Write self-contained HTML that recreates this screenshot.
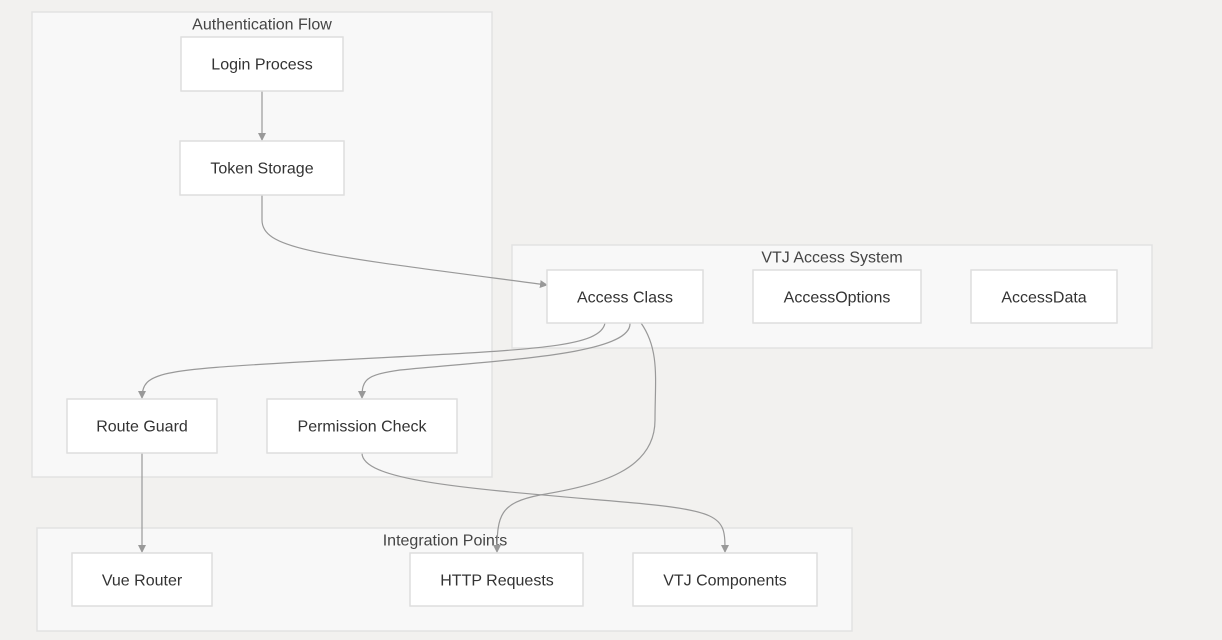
<!DOCTYPE html>
<html><head><meta charset="utf-8"><style>
html,body{margin:0;padding:0;background:#f2f1ef;}
svg{display:block;font-family:"Liberation Sans",sans-serif;}
.c{fill:#f8f8f8;stroke:#e2e2e2;stroke-width:1.5}
.n{fill:#fff;stroke:#dedede;stroke-width:1.5}
.t{font-size:16px;fill:#333;text-anchor:middle;dominant-baseline:central}
.ct{font-size:16px;fill:#444;text-anchor:middle;dominant-baseline:central}
.e{fill:none;stroke:#999;stroke-width:1.2}
</style></head><body>
<svg width="1222" height="640" viewBox="0 0 1222 640">
<defs><marker id="a" markerWidth="8" markerHeight="8" refX="7" refY="4" orient="auto" markerUnits="userSpaceOnUse"><path d="M0,0L8,4L0,8z" fill="#999"/></marker></defs>
<rect class="c" x="32" y="12" width="460" height="465"/>
<text class="ct" x="262" y="25">Authentication Flow</text>
<rect class="c" x="512" y="245" width="640" height="103"/>
<text class="ct" x="832" y="258">VTJ Access System</text>
<rect class="c" x="37" y="528" width="815" height="103"/>
<text class="ct" x="445" y="541">Integration Points</text>

<path class="e" marker-end="url(#a)" d="M262,91 V140"/>
<path class="e" marker-end="url(#a)" d="M262,195 V220 C262,250 320,255 547,285"/>
<path class="e" marker-end="url(#a)" d="M605,323 C600,350 520,350 300,362 C160,370 142,372 142,398"/>
<path class="e" marker-end="url(#a)" d="M630,323 C632,355 500,360 400,370 C365,375 362,380 362,398"/>
<path class="e" marker-end="url(#a)" d="M641,323 C660,350 655,380 655,420 C655,470 600,485 540,495 C500,503 497,515 497,552"/>
<path class="e" marker-end="url(#a)" d="M362,453 C362,480 460,488 600,500 C725,510 725,515 725,552"/>
<path class="e" marker-end="url(#a)" d="M142,453 V552"/>

<rect class="n" x="181" y="37" width="162" height="54"/><text class="t" x="262" y="65">Login Process</text>
<rect class="n" x="180" y="141" width="164" height="54"/><text class="t" x="262" y="169">Token Storage</text>
<rect class="n" x="547" y="270" width="156" height="53"/><text class="t" x="625" y="298">Access Class</text>
<rect class="n" x="753" y="270" width="168" height="53"/><text class="t" x="837" y="298">AccessOptions</text>
<rect class="n" x="971" y="270" width="146" height="53"/><text class="t" x="1044" y="298">AccessData</text>
<rect class="n" x="67" y="399" width="150" height="54"/><text class="t" x="142" y="427">Route Guard</text>
<rect class="n" x="267" y="399" width="190" height="54"/><text class="t" x="362" y="427">Permission Check</text>
<rect class="n" x="72" y="553" width="140" height="53"/><text class="t" x="142" y="581">Vue Router</text>
<rect class="n" x="410" y="553" width="173" height="53"/><text class="t" x="497" y="581">HTTP Requests</text>
<rect class="n" x="633" y="553" width="184" height="53"/><text class="t" x="725" y="581">VTJ Components</text>
</svg>
</body></html>
